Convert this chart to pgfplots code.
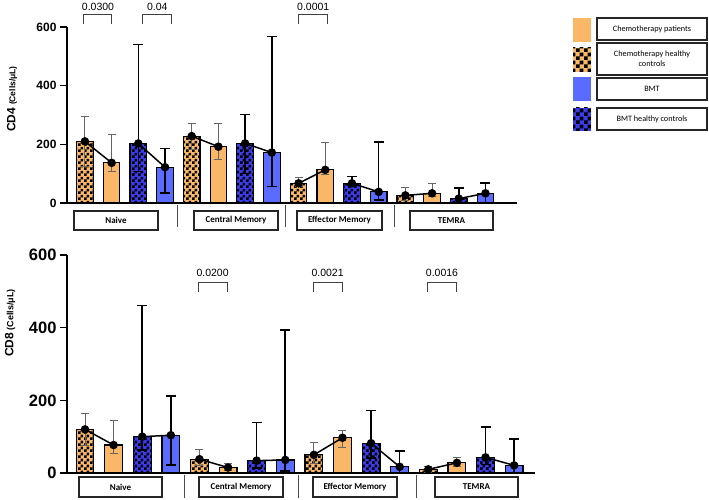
\documentclass[border=0pt]{standalone}
\usepackage{fontspec}
\setmainfont{Liberation Sans}
\newfontfamily\calfont{Carlito}
\usepackage{pgfplots}
\usepackage{pgfplotstable}
\pgfplotsset{compat=1.18}
\usetikzlibrary{patterns}
\pgfdeclarepatternformonly{chk}{\pgfpointorigin}{\pgfqpoint{6pt}{6pt}}{\pgfqpoint{6pt}{6pt}}{%
\pgfpathrectangle{\pgfpointorigin}{\pgfqpoint{3pt}{3pt}}%
\pgfpathrectangle{\pgfqpoint{3pt}{3pt}}{\pgfqpoint{3pt}{3pt}}%
\pgfusepath{fill}}
\pgfdeclarepatternformonly{chkL}{\pgfpointorigin}{\pgfqpoint{8pt}{8pt}}{\pgfqpoint{8pt}{8pt}}{%
\pgfpathrectangle{\pgfpointorigin}{\pgfqpoint{4pt}{4pt}}%
\pgfpathrectangle{\pgfqpoint{4pt}{4pt}}{\pgfqpoint{4pt}{4pt}}%
\pgfusepath{fill}}
\definecolor{orng}{RGB}{251,183,104}
\definecolor{bsolid}{RGB}{90,108,255}
\definecolor{bchk}{RGB}{60,60,238}

% ---- CD4 ----
\pgfplotstableread{
x y ep em
0 210 84 84
4 228 44 44
8 67 19 12
12 26 26 16
}\aHC
\pgfplotstableread{
x y ep em
1 137 95 30
5 192 80 45
9 113 94 14
13 33 34 11
}\aCP
\pgfplotstableread{
x y ep em
2 203 338 96
6 203 99 102
10 67 23 6
14 15 37 15
}\aBHC
\pgfplotstableread{
x y ep em
3 122 64 87
7 172 395 116
11 38 169 28
15 33 36 33
}\aB
% ---- CD8 ----
\pgfplotstableread{
x y ep em
0 120 44 44
4 38 28 18
8 50 34 23
12 10 9 8
}\bHC
\pgfplotstableread{
x y ep em
1 77 69 23
5 15 12 7
9 97 21 26
13 28 14 9
}\bCP
\pgfplotstableread{
x y ep em
2 100 361 37
6 34 105 20
10 82 90 40
14 43 83 20
}\bBHC
\pgfplotstableread{
x y ep em
3 104 108 82
7 36 358 31
11 17 43 17
15 21 72 21
}\bB

\pgfplotsset{
 panel/.style={scale only axis, anchor=south west,
  axis lines*=left, axis line style={line width=2pt, black},
  xtick=\empty, ytick={0,200,400,600}, ymin=0, ymax=600,
  tick style={line width=1.6pt, black}, major tick length=7pt, tick align=outside,
  clip=false, /pgf/number format/assume math mode=true},
 ebthin/.style={error bars/y dir=both, error bars/y explicit,
  error bars/error bar style={line width=0.9pt, black!60},
  error bars/error mark options={rotate=90, mark size=4pt, line width=0.9pt, black!60}},
 ebthick/.style={error bars/y dir=both, error bars/y explicit,
  error bars/error bar style={line width=1.6pt, black},
  error bars/error mark options={rotate=90, mark size=5pt, line width=1.6pt, black}},
 bHC/.style={ybar, bar width=0.62, bar shift=0pt, fill=orng, draw=black, line width=1.2pt,
  postaction={pattern=chk, pattern color=black}, ebthin},
 bCP/.style={ybar, bar width=0.62, bar shift=0pt, fill=orng, draw=black, line width=1.2pt, ebthin},
 bBHC/.style={ybar, bar width=0.62, bar shift=0pt, fill=bchk, draw=black, line width=1.2pt,
  postaction={pattern=chk, pattern color=black}, ebthick},
 bB/.style={ybar, bar width=0.62, bar shift=0pt, fill=bsolid, draw=black, line width=1.2pt, ebthick},
 means/.style={black, line width=1.5pt, mark=*, mark size=3.5pt, unbounded coords=jump},
}

\begin{document}
\begin{tikzpicture}
\path[use as bounding box] (0,0) rectangle (709pt,-500pt);

% ===== Top panel CD4 =====
\begin{axis}[panel, at={(67pt,-203pt)}, width=450pt, height=176pt,
  xmin=-0.67, xmax=16.18,
  yticklabel style={font=\fontsize{12}{12}\selectfont\bfseries}]
\addplot[bHC] table[x=x,y=y,y error plus=ep,y error minus=em] {\aHC};
\addplot[bCP] table[x=x,y=y,y error plus=ep,y error minus=em] {\aCP};
\addplot[bBHC] table[x=x,y=y,y error plus=ep,y error minus=em] {\aBHC};
\addplot[bB] table[x=x,y=y,y error plus=ep,y error minus=em] {\aB};
\addplot[means] coordinates {(0,210)(1,137)(1.5,nan)(2,203)(3,122)(3.5,nan)
 (4,228)(5,192)(5.5,nan)(6,203)(7,172)(7.5,nan)
 (8,67)(9,113)(9.5,nan)(10,67)(11,38)(11.5,nan)
 (12,26)(13,33)(13.5,nan)(14,15)(15,33)};
\draw[line width=1pt, black!75] (axis cs:-0.04,610) -- (axis cs:-0.04,641) -- (axis cs:1.01,641) -- (axis cs:1.01,610);
\node[font=\fontsize{10.5}{12}\selectfont] at (axis cs:0.49,670) {0.0300};
\draw[line width=1pt, black!75] (axis cs:2.17,610) -- (axis cs:2.17,641) -- (axis cs:3.26,641) -- (axis cs:3.26,610);
\node[font=\fontsize{10.5}{12}\selectfont] at (axis cs:2.71,670) {0.04};
\draw[line width=1pt, black!75] (axis cs:8.01,610) -- (axis cs:8.01,641) -- (axis cs:9.1,641) -- (axis cs:9.1,610);
\node[font=\fontsize{10.5}{12}\selectfont] at (axis cs:8.55,670) {0.0001};
\end{axis}

% ===== Bottom panel CD8 =====
\begin{axis}[panel, at={(67pt,-473pt)}, width=468pt, height=218pt,
  xmin=-0.63, xmax=15.73,
  yticklabel style={font=\fontsize{16.5}{17}\selectfont\bfseries}]
\addplot[bHC] table[x=x,y=y,y error plus=ep,y error minus=em] {\bHC};
\addplot[bCP] table[x=x,y=y,y error plus=ep,y error minus=em] {\bCP};
\addplot[bBHC] table[x=x,y=y,y error plus=ep,y error minus=em] {\bBHC};
\addplot[bB] table[x=x,y=y,y error plus=ep,y error minus=em] {\bB};
\addplot[means] coordinates {(0,120)(1,77)(1.5,nan)(2,100)(3,104)(3.5,nan)
 (4,38)(5,15)(5.5,nan)(6,34)(7,36)(7.5,nan)
 (8,50)(9,97)(9.5,nan)(10,82)(11,17)(11.5,nan)
 (12,10)(13,28)(13.5,nan)(14,43)(15,21)};
\draw[line width=1pt, black!75] (axis cs:3.95,498) -- (axis cs:3.95,523) -- (axis cs:4.97,523) -- (axis cs:4.97,498);
\node[font=\fontsize{10.5}{12}\selectfont] at (axis cs:4.46,550) {0.0200};
\draw[line width=1pt, black!75] (axis cs:7.97,498) -- (axis cs:7.97,523) -- (axis cs:8.99,523) -- (axis cs:8.99,498);
\node[font=\fontsize{10.5}{12}\selectfont] at (axis cs:8.48,550) {0.0021};
\draw[line width=1pt, black!75] (axis cs:11.96,498) -- (axis cs:11.96,523) -- (axis cs:13.0,523) -- (axis cs:13.0,498);
\node[font=\fontsize{10.5}{12}\selectfont] at (axis cs:12.48,552) {0.0016};
\end{axis}

\begin{scope}[x=1pt,y=-1pt]
% y labels
\node[rotate=90, font=\bfseries] at (12,99) {{\fontsize{12}{13}\selectfont CD4} {\fontsize{8.5}{9}\selectfont (Cells/μL)}};
\node[rotate=90, font=\bfseries] at (10,323) {{\fontsize{12}{13}\selectfont CD8} {\fontsize{9}{10}\selectfont (Cells/μL)}};
% category boxes top
\tikzset{cat/.style={font=\calfont\bfseries\fontsize{9}{10}\selectfont}}
\draw[line width=1.1pt, black!85] (74,211) rectangle (158,230);
\node[cat] at (116,220.5) {Naive};
\draw[line width=1.1pt, black!85] (194,211) rectangle (278,230);
\node[cat] at (236,220.5) {Central Memory};
\draw[line width=1.1pt, black!85] (297,211) rectangle (382,230);
\node[cat] at (339.5,220.5) {Effector Memory};
\draw[line width=1.1pt, black!85] (410,211) rectangle (493,230);
\node[cat] at (451.5,220.5) {TEMRA};
\foreach \sx in {177,285,394} \draw[line width=1pt, black!70] (\sx,205) -- (\sx,227);
% category boxes bottom
\draw[line width=1.1pt, black!85] (79,477) rectangle (162,497);
\node[cat] at (120.5,487) {Naive};
\draw[line width=1.1pt, black!85] (199,477) rectangle (283,497);
\node[cat] at (241,487) {Central Memory};
\draw[line width=1.1pt, black!85] (313,477) rectangle (397,497);
\node[cat] at (355,487) {Effector Memory};
\draw[line width=1.1pt, black!85] (435,477) rectangle (518,497);
\node[cat] at (476.5,487) {TEMRA};
\foreach \sx in {184,298,416} \draw[line width=1pt, black!70] (\sx,475) -- (\sx,498);
% legend
\tikzset{leg/.style={font=\calfont\fontsize{8.2}{10}\selectfont, align=center}}
\fill[orng] (573,18) rectangle (591,42);
\draw[line width=1.1pt, black!85] (597,18) rectangle (707,40);
\node[leg] at (652,29) {Chemotherapy patients};
\fill[orng] (573,48) rectangle (591,72);
\fill[pattern=chkL, pattern color=black] (573,48) rectangle (591,72);
\draw[line width=1.1pt, black!85] (597,43) rectangle (707,75);
\node[leg] at (652,59) {Chemotherapy healthy\\controls};
\fill[bsolid] (573,77) rectangle (591,101);
\draw[line width=1.1pt, black!85] (597,78) rectangle (707,100);
\node[leg] at (652,89) {BMT};
\fill[bchk] (573,108) rectangle (591,131);
\fill[pattern=chkL, pattern color=black] (573,108) rectangle (591,131);
\draw[line width=1.1pt, black!85] (597,108) rectangle (707,130);
\node[leg] at (652,119) {BMT healthy controls};
\end{scope}
\end{tikzpicture}
\end{document}
